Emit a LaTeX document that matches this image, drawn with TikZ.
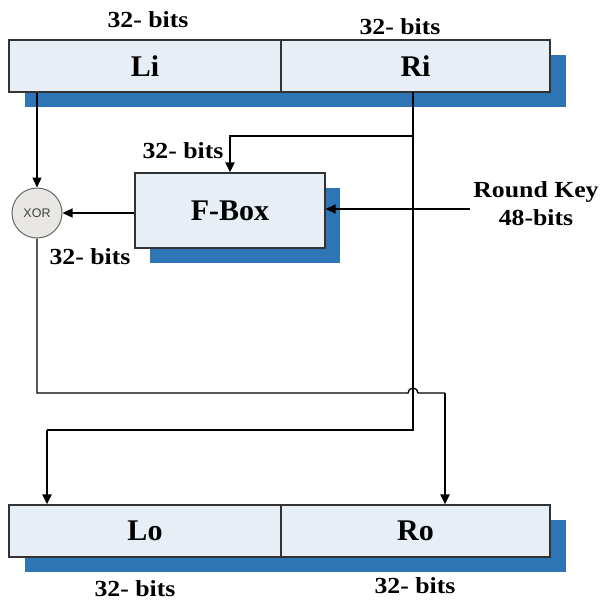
\documentclass[tikz,border=0pt]{standalone}
\usepackage{fontspec}
\setmainfont{Liberation Serif}
\newfontfamily\sansf{Liberation Sans}
\newfontfamily\widef[FakeStretch=1.12]{Liberation Serif}
\usetikzlibrary{arrows.meta}
\definecolor{boxfill}{HTML}{E7EEF6}
\definecolor{shadowc}{HTML}{2E75B6}
\definecolor{xorfill}{HTML}{E9E7E4}
\definecolor{edgec}{HTML}{333333}
\tikzset{
  regbox/.style={draw=edgec, line width=1.2pt, fill=boxfill, inner sep=0pt,
    font=\fontsize{30}{32}\selectfont\bfseries},
  shadowbox/.style={fill=shadowc},
  bitlbl/.style={font=\widef\fontsize{23}{25}\selectfont\bfseries, inner sep=0pt},
  thinln/.style={line width=1.3pt, draw=black},
  thickln/.style={line width=2pt, draw=black},
  arr/.style={-{Triangle[length=10pt,width=9pt]}},
}
\begin{document}
\begin{tikzpicture}[x=1pt,y=-1pt]
\useasboundingbox (0,0) rectangle (602,602);
% shadows
\fill[shadowbox] (25,55) rectangle (566,107);
\fill[shadowbox] (150,188) rectangle (340,263);
\fill[shadowbox] (25,520) rectangle (566,572);
% top boxes
\node[regbox, minimum width=272pt, minimum height=52pt] (Li) at (145,66) {Li};
\node[regbox, minimum width=269pt, minimum height=52pt] (Ri) at (415.5,66) {Ri};
% bottom boxes
\node[regbox, minimum width=272pt, minimum height=52pt] (Lo) at (145,531) {Lo};
\node[regbox, minimum width=269pt, minimum height=52pt] (Ro) at (415.5,531) {Ro};
% F-box
\node[regbox, minimum width=190pt, minimum height=75pt] (F) at (230,210.5) {F-Box};
% XOR
\node[circle, draw=gray!80!black, line width=1pt, fill=xorfill, minimum size=50pt, inner sep=0pt,
  font=\sansf\fontsize{12.5}{13}\selectfont, text=black!75] (X) at (37,213) {XOR};
% labels
\node[bitlbl] (l1) at (148,20) {32- bits};
\node[bitlbl] (l2) at (400,27) {32- bits};
\node[bitlbl] (l3) at (183,151) {32- bits};
\node[bitlbl] (l4) at (90,257) {32- bits};
\node[bitlbl] (l5) at (135,589) {32- bits};
\node[bitlbl] (l6) at (415,586) {32- bits};
\node[bitlbl, align=center] (rk) at (536,203.5) {Round Key\\[3pt]48-bits};
% coordinates
\coordinate (rks) at (470,209);
\coordinate (rtop) at (413,92);
\coordinate (rbr) at (413,136);
\coordinate (fin) at (230,136);
\coordinate (rlow) at (413,430);
\coordinate (llow) at (47,430);
\coordinate (xlow) at (37,393);
\coordinate (j1) at (408,393);
\coordinate (rcorner) at (445,393);
% connectors
\draw[thinln, arr] (Li.south -| X.north) -- (X.north);
\draw[thickln] (rtop) -- (rlow) -- (llow);
\draw[thickln, arr] (llow) -- (llow |- Lo.north);
\draw[thickln, arr] (rbr) -- (fin) -- (F.north);
\draw[thinln, arr] (rks) -- (rks -| F.east);
\draw[thinln, arr] (F.west |- X.east) -- (X.east);
\draw[thinln] (X.south) -- (xlow) -- (j1) arc[start angle=180, end angle=0, radius=5pt] -- (rcorner);
\draw[thickln, arr] (rcorner) -- (rcorner |- Ro.north);
\end{tikzpicture}
\end{document}
